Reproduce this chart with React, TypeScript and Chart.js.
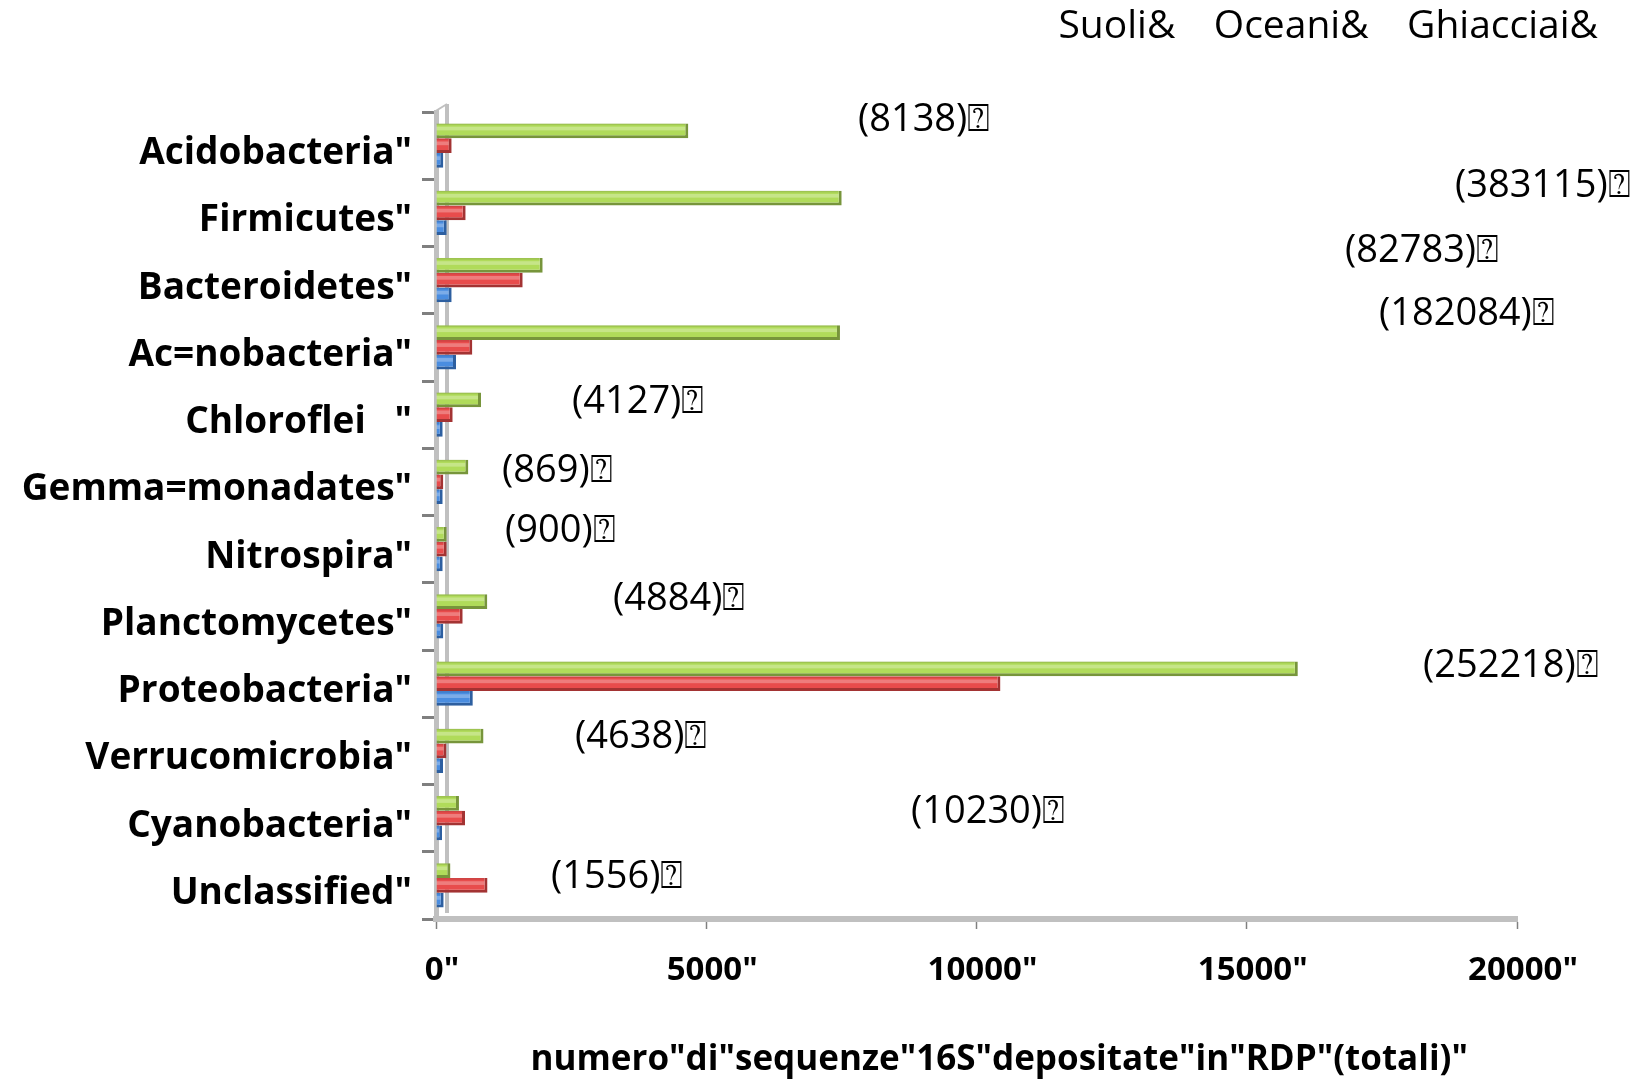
import { useEffect, useRef } from 'react';
import { Chart, registerables } from 'chart.js';

Chart.register(...registerables);

const categories = [
  'Acidobacteria"',
  'Firmicutes"',
  'Bacteroidetes"',
  'Ac=nobacteria"',
  'Chloroflei   "',
  'Gemma=monadates"',
  'Nitrospira"',
  'Planctomycetes"',
  'Proteobacteria"',
  'Verrucomicrobia"',
  'Cyanobacteria"',
  'Unclassified"',
];

// Series values
const suoli = [135, 198, 290, 370, 124, 124, 124, 135, 681, 130, 111, 142];
const oceani = [290, 549, 1604, 672, 309, 135, 198, 494, 10443, 193, 537, 953];
const ghiacciai = [4668, 7506, 1974, 7474, 833, 598, 198, 949, 15945, 879, 425, 267];

// Total annotations and their anchor positions in data space
const totals = ['8138', '383115', '82783', '182084', '4127', '869', '900', '4884', '252218', '4638', '10230', '1556'];
const totalLabelX = [7807, 18853, 16818, 17447, 2516, 1221, 1277, 3275, 18261, 2572, 8788, 2128];
const totalLabelY = [-0.38, 0.6, 1.57, 2.5, 3.82, 4.84, 5.73, 6.75, 7.74, 8.79, 9.91, 10.88];

const xMin = 0;
const xMax = 20000;
const xStep = 5000;
const xTitle = '     numero"di"sequenze"16S"depositate"in"RDP"(totali)"';

const FONT = "'Open Sans', 'DejaVu Sans', sans-serif";
const PAD_TOP = -12;

export default function App() {
  const ref = useRef<HTMLCanvasElement>(null);

  useEffect(() => {
    const wall = {
      id: 'wall',
      beforeDatasetsDraw(chart: any) {
        const { ctx } = chart;
        const xs = chart.scales.x;
        const ys = chart.scales.y;
        const x0 = xs.getPixelForValue(0);
        ctx.save();
        ctx.strokeStyle = '#c0c0c0';
        ctx.lineWidth = 4;
        ctx.beginPath();
        ctx.moveTo(x0 + 11, ys.top - 8);
        ctx.lineTo(x0 + 11, ys.bottom - 6);
        ctx.stroke();
        ctx.lineWidth = 2;
        ctx.beginPath();
        ctx.moveTo(x0 - 2, ys.top);
        ctx.lineTo(x0 + 11, ys.top - 8);
        ctx.stroke();
        ctx.restore();
      },
    };

    const shine = {
      id: 'shine',
      afterDatasetsDraw(chart: any) {
        const { ctx } = chart;
        ctx.save();
        chart.data.datasets.forEach((_: any, di: number) => {
          const meta = chart.getDatasetMeta(di);
          meta.data.forEach((el: any) => {
            const top = el.y - el.height / 2;
            const left = Math.min(el.base, el.x);
            const w = Math.abs(el.x - el.base) - 3;
            if (w <= 0) return;
            ctx.fillStyle = 'rgba(255,255,255,0.28)';
            ctx.fillRect(left, top + el.height * 0.22, w, el.height * 0.25);
            ctx.fillStyle = 'rgba(0,0,0,0.10)';
            ctx.fillRect(left, top, w, el.height * 0.12);
          });
        });
        ctx.restore();
      },
    };

    const annot = {
      id: 'annot',
      afterDatasetsDraw(chart: any) {
        const { ctx } = chart;
        const xs = chart.scales.x;
        const ys = chart.scales.y;
        ctx.save();
        ctx.font = `38px ${FONT}`;
        ctx.fillStyle = '#000';
        ctx.textAlign = 'left';
        ctx.textBaseline = 'middle';
        totals.forEach((t, i) => {
          const x = xs.getPixelForValue(totalLabelX[i]);
          const y = ys.getPixelForValue(totalLabelY[i]);
          ctx.fillText(`(${t})\u2370`, x, y);
        });
        ctx.restore();
      },
    };

    const chart = new Chart(ref.current!, {
      type: 'bar',
      data: {
        labels: categories,
        datasets: [
          {
            label: 'Ghiacciai&',
            data: ghiacciai,
            backgroundColor: '#b0db5a',
            borderColor: '#77953b',
            borderWidth: { top: 0, left: 0, right: 3, bottom: 3 },
            borderSkipped: false,
            xAxisID: 'x',
            yAxisID: 'y',
          },
          {
            label: 'Oceani&',
            data: oceani,
            backgroundColor: '#e84c4c',
            borderColor: '#a33333',
            borderWidth: { top: 0, left: 0, right: 3, bottom: 3 },
            borderSkipped: false,
            xAxisID: 'x',
            yAxisID: 'y',
          },
          {
            label: 'Suoli&',
            data: suoli,
            backgroundColor: '#4a8de0',
            borderColor: '#2d5fa0',
            borderWidth: { top: 0, left: 0, right: 3, bottom: 3 },
            borderSkipped: false,
            xAxisID: 'x',
            yAxisID: 'y',
          },
        ],
      },
      options: {
        indexAxis: 'y',
        responsive: false,
        animation: false,
        devicePixelRatio: 1,
        layout: { padding: { left: 0, right: 20, top: PAD_TOP, bottom: 0 } },
        datasets: { bar: { categoryPercentage: 0.66, barPercentage: 1 } },
        plugins: {
          tooltip: { enabled: false },
          legend: {
            position: 'top',
            align: 'end',
            reverse: true,
            labels: {
              boxWidth: 0,
              boxHeight: 0,
              padding: 19,
              color: '#000',
              font: { family: FONT, size: 39 },
              generateLabels: (c: any) =>
                c.data.datasets.map((ds: any, i: number) => ({
                  text: ds.label,
                  fillStyle: 'rgba(0,0,0,0)',
                  strokeStyle: 'rgba(0,0,0,0)',
                  lineWidth: 0,
                  hidden: false,
                  datasetIndex: i,
                  fontColor: '#000',
                })),
            },
          },
        },
        scales: {
          x: {
            type: 'linear',
            position: 'bottom',
            min: xMin,
            max: xMax,
            ticks: {
              stepSize: xStep,
              color: '#000',
              padding: 22,
              labelOffset: 6,
              font: { family: FONT, size: 33, weight: 'bold' },
              callback: (v: any) => `${v}"`,
            },
            grid: {
              drawOnChartArea: false,
              drawTicks: true,
              tickLength: 10,
              tickColor: '#808080',
              tickWidth: 1.5,
            },
            border: { display: true, color: '#c0c0c0', width: 6 },
            title: {
              display: true,
              text: xTitle,
              color: '#000',
              font: { family: FONT, size: 35, weight: 'bold' },
              padding: { top: 0, bottom: 1 },
            },
            afterFit: (s: any) => {
              s.height = 163;
              s.paddingRight = 120;
            },
          },
          x2: {
            type: 'linear',
            position: 'top',
            display: true,
            ticks: { display: false },
            grid: { display: false, drawTicks: false },
            border: { display: false },
            afterFit: (s: any) => {
              const lh = s.chart.legend ? s.chart.legend.height : 0;
              s.height = Math.max(0, 112 - lh - PAD_TOP);
            },
          },
          y: {
            type: 'category',
            offset: true,
            ticks: {
              color: '#000',
              padding: 10,
              labelOffset: 8,
              font: { family: FONT, size: 37, weight: 'bold' },
            },
            grid: {
              offset: true,
              drawOnChartArea: false,
              drawTicks: true,
              tickLength: 14,
              tickColor: '#7f7f7f',
              tickWidth: 3,
            },
            border: { display: true, color: '#c0c0c0', width: 5 },
            afterFit: (s: any) => {
              s.width = 436;
            },
          },
        },
      },
      plugins: [wall, shine, annot],
    } as any);

    return () => chart.destroy();
  }, []);

  return (
    <div style={{ position: 'absolute', left: 0, top: 0, width: 1637, height: 1082, background: '#fff' }}>
      <canvas ref={ref} width={1637} height={1082} style={{ display: 'block' }} />
    </div>
  );
}
